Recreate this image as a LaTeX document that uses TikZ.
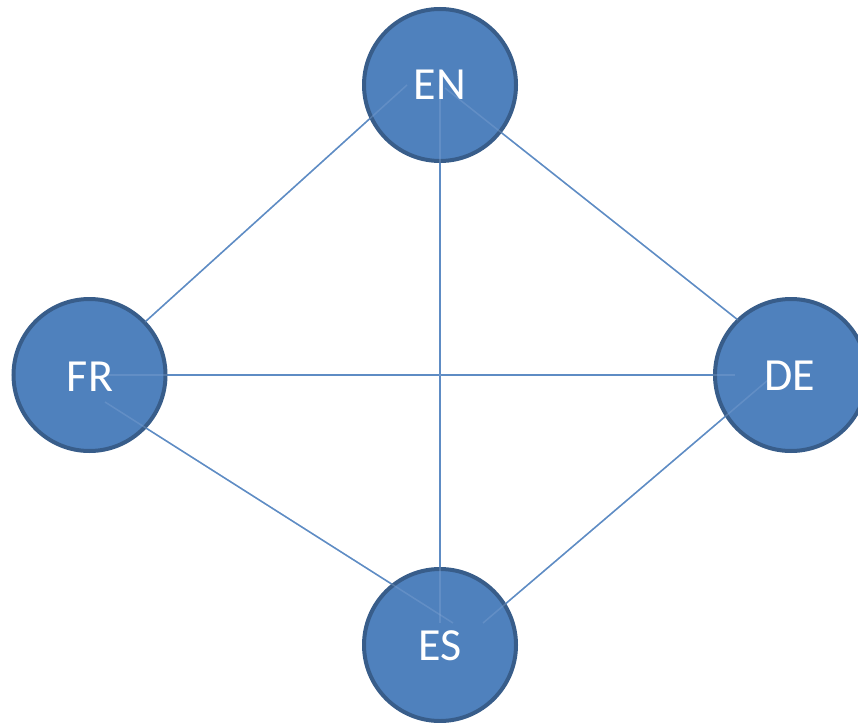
\documentclass[tikz,border=0pt]{standalone}
\usepackage{fontspec}
\setmainfont{Carlito}
\definecolor{nodefill}{HTML}{4F81BD}
\definecolor{nodeedge}{HTML}{385D8A}
\definecolor{linkcol}{HTML}{4A7EBB}
\definecolor{linkpale}{HTML}{86A8D6}
\begin{document}
\begin{tikzpicture}[x=1pt,y=-1pt,
  langnode/.style={circle,fill=nodefill,draw=nodeedge,line width=4pt,minimum size=152pt,inner sep=0pt,text=white,font=\fontsize{46}{50}\selectfont},
  link/.style={draw=linkcol,line width=1.5pt},
  palelink/.style={draw=linkpale,line width=1.5pt,opacity=0.35}]
\useasboundingbox (0,0) rectangle (858,722);
\clip (0,0) rectangle (858,722);
% connector end points
\coordinate (fren1) at (145,322);
\coordinate (fren2) at (407,85);
\coordinate (ende1) at (445,88);
\coordinate (ende2) at (738,320);
\coordinate (enes1) at (440,85);
\coordinate (enes2) at (440,623);
\coordinate (frde1) at (107,375);
\coordinate (frde2) at (735,375);
\coordinate (fres1) at (105,402);
\coordinate (fres2) at (453,623);
\coordinate (dees1) at (768,380);
\coordinate (dees2) at (483,623);
% links
\foreach \a/\b in {fren1/fren2,ende1/ende2,enes1/enes2,frde1/frde2,fres1/fres2,dees1/dees2}
  \draw[link] (\a) -- (\b);
% nodes
\node[langnode] (EN) at (440,85) {};
\node[langnode] (FR) at (89.5,375) {};
\node[langnode] (DE) at (791,375) {};
\node[langnode] (ES) at (440,645) {};
% faint parts of links over the nodes
\foreach \a/\b in {fren1/fren2,ende1/ende2,enes1/enes2,frde1/frde2,fres1/fres2,dees1/dees2}
  \draw[palelink] (\a) -- (\b);
% labels
\node[text=white,font=\fontsize{46}{50}\selectfont,inner sep=0pt] (ENt) at (440,85) {EN};
\node[text=white,font=\fontsize{46}{50}\selectfont,inner sep=0pt] (FRt) at (90,377) {FR};
\node[text=white,font=\fontsize{46}{50}\selectfont,inner sep=0pt] (DEt) at (790,376) {DE};
\node[text=white,font=\fontsize{46}{50}\selectfont,inner sep=0pt] (ESt) at (440,646) {ES};
\end{tikzpicture}
\end{document}
